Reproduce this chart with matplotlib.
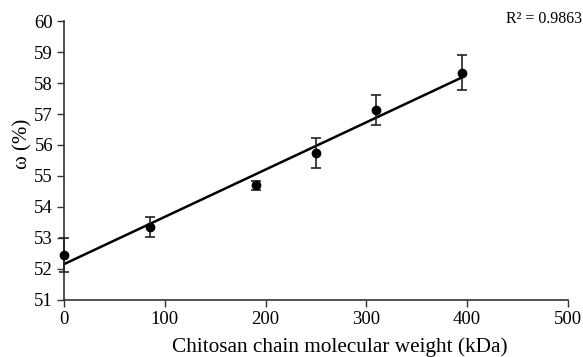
import numpy as np
import matplotlib
matplotlib.use('Agg')
from matplotlib import pyplot as plt

plt.rcParams['font.family'] = ['Liberation Serif', 'DejaVu Serif']

## Data
#
mw = [0, 85, 190, 250, 310, 395]            # kDa
omega = [52.45, 53.35, 54.7, 55.75, 57.12, 58.33]  # %
err = [0.55, 0.32, 0.15, 0.48, 0.48, 0.57]
r2_text = 'R² = 0.9863'

# linear trend line
k, b = np.polyfit(mw, omega, 1)
xfit = np.array([0, 395])

fig = plt.figure(figsize=(5.83, 3.57), dpi=100)
ax = fig.add_axes([0.110, 0.160, 0.864, 0.781])

ax.plot(xfit, k * xfit + b, color='black', lw=1.8, zorder=2)
ax.errorbar(mw, omega, yerr=err, fmt='o', color='black', ms=6,
            ecolor='#222222', elinewidth=1.2, capsize=3.5, capthick=1.2,
            clip_on=False, zorder=3)

ax.set_xlim(0, 500)
ax.set_ylim(51, 60)
ax.set_xticks(range(0, 501, 100))
ax.set_yticks(range(51, 61))

for s in ['top', 'right']:
    ax.spines[s].set_visible(False)
for s in ['left', 'bottom']:
    ax.spines[s].set_color('#333333')
    ax.spines[s].set_linewidth(1.2)

ax.tick_params(direction='out', length=5, width=1, color='#333333',
               labelsize=13.5, pad=3)
ax.set_xlabel('Chitosan chain molecular weight (kDa)', fontsize=15.3)
ax.xaxis.set_label_coords(0.547, -0.135)
ax.set_ylabel('ω (%)', fontsize=15)
ax.yaxis.set_label_coords(-0.062, 0.56)

fig.text(0.999, 0.925, r2_text, ha='right', va='bottom', fontsize=11.5)

fig.savefig('out.png', dpi=100)
